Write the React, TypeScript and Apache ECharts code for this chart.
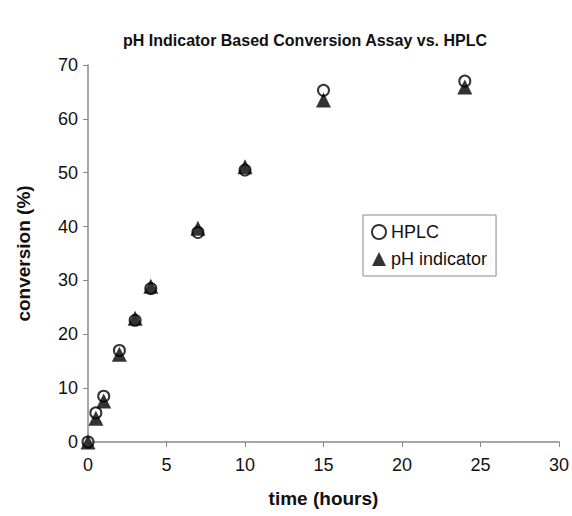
import React, { useEffect, useRef } from "react";
import * as echarts from "echarts";

const times = [0, 0.5, 1, 2, 3, 4, 7, 10, 15, 24];
const hplc = [0, 5.4, 8.5, 17, 22.6, 28.5, 38.9, 50.5, 65.3, 67.0];
const phIndicator = [0, 4.4, 7.6, 16.3, 23.0, 28.9, 39.7, 51.1, 63.5, 65.9];
const xTicks = [0, 5, 10, 15, 20, 25, 30];
const yTicks = [0, 10, 20, 30, 40, 50, 60, 70];

const FONT = "Liberation Sans, Arial, sans-serif";

export default function App() {
  const ref = useRef<HTMLDivElement>(null);
  useEffect(() => {
    if (!ref.current) return;
    const chart = echarts.init(ref.current, null, { renderer: "svg" });
    chart.setOption({
      animation: false,
      backgroundColor: "#fff",
      title: {
        text: "pH Indicator Based Conversion Assay vs. HPLC",
        left: 300,
        textAlign: "center",
        top: 27,
        textStyle: { fontFamily: FONT, fontSize: 16, fontWeight: "bold", color: "#111" },
      },
      legend: {
        orient: "vertical",
        left: 363,
        top: 215,
        borderColor: "#888",
        borderWidth: 1,
        padding: [8, 9, 8, 8],
        itemGap: 9,
        itemWidth: 14,
        itemHeight: 14,
        textStyle: { fontFamily: FONT, fontSize: 18, color: "#111" },
        data: ["HPLC", "pH indicator"],
      },
      grid: { left: 88, right: 9, top: 65, bottom: 74, containLabel: false },
      xAxis: {
        type: "value",
        min: xTicks[0],
        max: xTicks[xTicks.length - 1],
        interval: 5,
        name: "time (hours)",
        nameLocation: "middle",
        nameGap: 47,
        nameTextStyle: { fontFamily: FONT, fontSize: 19, fontWeight: "bold", color: "#111" },
        axisLine: { show: true, lineStyle: { color: "#888", width: 1.5 } },
        axisTick: { show: true, inside: false, length: 5, lineStyle: { color: "#888" } },
        axisLabel: { fontFamily: FONT, fontSize: 18, color: "#111", margin: 14 },
        splitLine: { show: false },
      },
      yAxis: {
        type: "value",
        min: yTicks[0],
        max: yTicks[yTicks.length - 1],
        interval: 10,
        name: "conversion (%)",
        nameLocation: "middle",
        nameGap: 55,
        nameTextStyle: { fontFamily: FONT, fontSize: 19, fontWeight: "bold", color: "#111" },
        axisLine: { show: true, lineStyle: { color: "#888", width: 1.5 } },
        axisTick: { show: true, inside: false, length: 5, lineStyle: { color: "#888" } },
        axisLabel: { fontFamily: FONT, fontSize: 18, color: "#111", margin: 10 },
        splitLine: { show: false },
      },
      series: [
        {
          name: "HPLC",
          type: "scatter",
          symbol: "circle",
          symbolSize: 11,
          itemStyle: { color: "#fff", borderColor: "#000", borderWidth: 2 },
          data: times.map((t, i) => [t, hplc[i]]),
          z: 2,
        },
        {
          name: "pH indicator",
          type: "scatter",
          symbol: "triangle",
          symbolSize: 15,
          itemStyle: { color: "#000" },
          data: times.map((t, i) => [t, phIndicator[i]]),
          z: 3,
        },
      ],
    });
    return () => chart.dispose();
  }, []);
  return (
    <div
      ref={ref}
      style={{ position: "absolute", left: 0, top: 0, width: 572, height: 516 }}
    />
  );
}
